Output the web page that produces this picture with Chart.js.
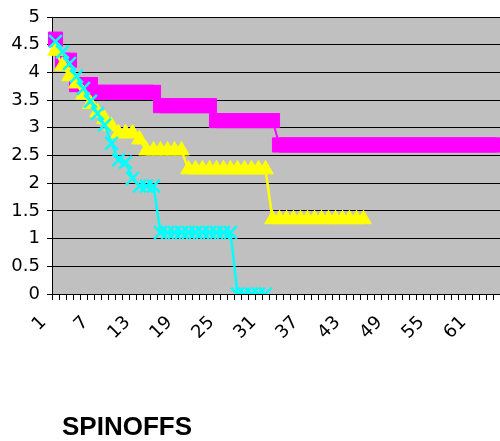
<!DOCTYPE html>
<html>
<head>
<meta charset="utf-8">
<script src="https://cdn.jsdelivr.net/npm/chart.js@4/dist/chart.umd.min.js"></script>
<style>
html,body{margin:0;padding:0;background:#fff;overflow:hidden;}
#c{display:block;}
</style>
</head>
<body>
<canvas id="c" width="500" height="441"></canvas>
<script>
const categories = ["1","2","3","4","5","6","7","8","9","10","11","12","13","14","15","16","17","18","19","20","21","22","23","24","25","26","27","28","29","30","31","32","33","34","35","36","37","38","39","40","41","42","43","44","45","46","47","48","49","50","51","52","53","54","55","56","57","58","59","60","61","62","63","64"];

const magentaValues = [4.6, 4.22, 4.22, 3.78, 3.78, 3.78,
  3.64, 3.64, 3.64, 3.64, 3.64, 3.64, 3.64, 3.64, 3.64,
  3.40, 3.40, 3.40, 3.40, 3.40, 3.40, 3.40, 3.40,
  3.13, 3.13, 3.13, 3.13, 3.13, 3.13, 3.13, 3.13, 3.13,
  2.69, 2.69, 2.69, 2.69, 2.69, 2.69, 2.69, 2.69, 2.69, 2.69, 2.69, 2.69, 2.69, 2.69, 2.69, 2.69,
  2.69, 2.69, 2.69, 2.69, 2.69, 2.69, 2.69, 2.69, 2.69, 2.69, 2.69, 2.69, 2.69, 2.69, 2.69, 2.69];

const yellowValues = [4.39, 4.12, 3.93, 3.8, 3.6, 3.43, 3.28, 3.16, 3.03,
  2.9, 2.9, 2.9, 2.79,
  2.59, 2.59, 2.59, 2.59, 2.59, 2.59,
  2.25, 2.25, 2.25, 2.25, 2.25, 2.25, 2.25, 2.25, 2.25, 2.25, 2.25, 2.25,
  1.35, 1.35, 1.35, 1.35, 1.35, 1.35, 1.35, 1.35, 1.35, 1.35, 1.35, 1.35, 1.35, 1.35];

const cyanValues = [4.56, 4.37, 4.16, 3.93, 3.71, 3.48, 3.26, 3.05, 2.72,
  2.42, 2.38, 2.09, 1.95, 1.95, 1.95,
  1.11, 1.11, 1.11, 1.11, 1.11, 1.11, 1.11, 1.11, 1.11, 1.11, 1.11,
  0, 0, 0, 0, 0];

const xTickEvery = 6;
const titleText = "SPINOFFS";

const plotBg = {
  id: 'plotBg',
  beforeDraw(chart) {
    const {ctx, chartArea: a} = chart;
    ctx.save();
    ctx.fillStyle = '#C0C0C0';
    ctx.fillRect(a.left, a.top, a.right - a.left, a.bottom - a.top);
    ctx.restore();
  }
};
const bottomTitle = {
  id: 'bottomTitle',
  afterDraw(chart) {
    const ctx = chart.ctx;
    ctx.save();
    ctx.fillStyle = '#000';
    ctx.font = 'bold 26px "Liberation Sans", Arial, sans-serif';
    ctx.textAlign = 'left';
    ctx.textBaseline = 'alphabetic';
    ctx.fillText(titleText, 62, 435);
    ctx.restore();
  }
};

const fontSpec = {family: '"DejaVu Sans", sans-serif', size: 18};

new Chart(document.getElementById('c'), {
  type: 'line',
  data: {
    labels: categories,
    datasets: [
      {label: 'C', data: cyanValues, borderColor: '#00FFFF', backgroundColor: '#00FFFF',
       borderWidth: 2.5, pointStyle: 'crossRot', pointRadius: 9, pointBorderWidth: 2.5, tension: 0},
      {label: 'B', data: yellowValues, borderColor: '#FFFF00', backgroundColor: '#FFFF00',
       borderWidth: 2.5, pointStyle: 'triangle', pointRadius: 9, pointBorderWidth: 1, tension: 0},
      {label: 'A', data: magentaValues, borderColor: '#FF00FF', backgroundColor: '#FF00FF',
       borderWidth: 2, pointStyle: 'rect', pointRadius: 10, pointBorderWidth: 1, tension: 0}
    ]
  },
  options: {
    responsive: false,
    animation: false,
    devicePixelRatio: 1,
    layout: {autoPadding: false, padding: {top: 17, left: 0, right: 0, bottom: 0}},
    plugins: {legend: {display: false}, tooltip: {enabled: false}, title: {display: false}},
    scales: {
      x: {
        type: 'category',
        offset: true,
        afterFit(s) { s.height = 147; s.paddingRight = 0; s.paddingLeft = 0; },
        grid: {offset: true, drawOnChartArea: false, drawTicks: true, tickLength: 6, color: '#000', lineWidth: 1},
        border: {color: '#000', width: 1},
        ticks: {
          autoSkip: false, maxRotation: 45, minRotation: 45, labelOffset: -12, padding: 12,
          color: '#000', font: fontSpec,
          callback(v, i) { return i % xTickEvery === 0 ? categories[i] : ''; }
        }
      },
      y: {
        min: 0, max: 5,
        afterFit(s) { s.width = 52; s.paddingTop = 0; s.paddingBottom = 0; },
        grid: {color: '#000', lineWidth: 1, drawTicks: true, tickLength: 5},
        border: {color: '#000', width: 1},
        ticks: {stepSize: 0.5, padding: 7, color: '#000', font: fontSpec,
          callback(v) { return String(Number(v.toFixed(2))); }}
      }
    }
  },
  plugins: [plotBg, bottomTitle]
});
</script>
</body>
</html>
